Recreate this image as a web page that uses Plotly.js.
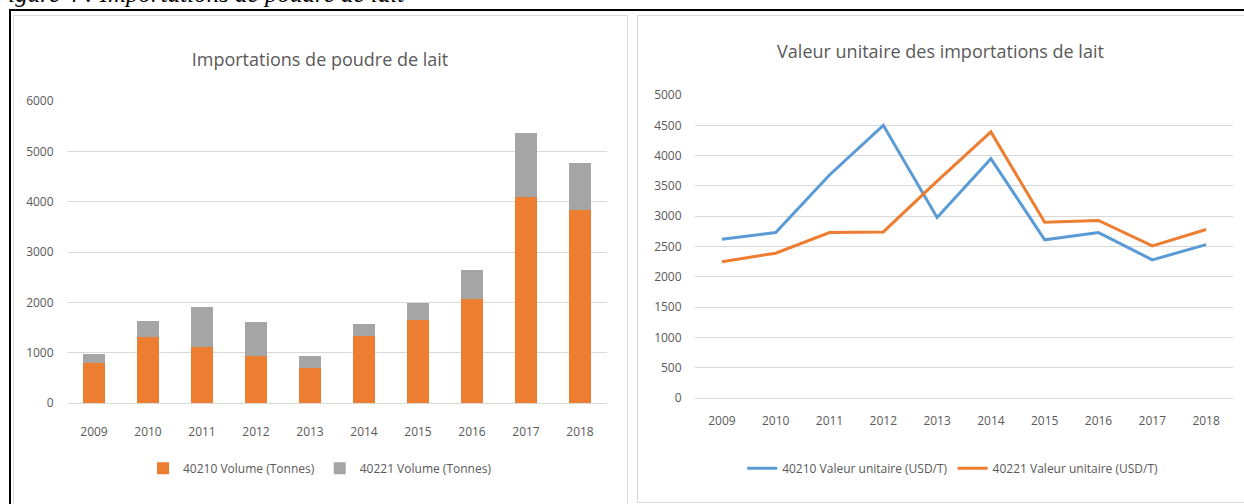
<!DOCTYPE html>
<html>
<head>
<meta charset="utf-8">
<script src="https://cdn.plot.ly/plotly-3.0.1.min.js"></script>
<style>
  body { margin: 0; background: #fff; width: 1244px; height: 504px; overflow: hidden; position: relative; }
  #caption { position: absolute; left: -7px; top: -20px; font: italic 25px "Liberation Serif", "DejaVu Serif", serif; color: #000; white-space: nowrap; }
  #frame { position: absolute; left: 9px; top: 9px; width: 1300px; height: 600px; border-left: 2px solid #000; border-top: 2px solid #000; }
  .panel { position: absolute; border: 1px solid #d9d9d9; background: #fff; }
  #volPanel { left: 13px; top: 15px; width: 613px; height: 500px; }
  #prixPanel { left: 637px; top: 15px; width: 620px; height: 486px; }
  #volChart { position: absolute; left: 13px; top: 15px; width: 614px; height: 490px; }
  #prixChart { position: absolute; left: 637px; top: 15px; width: 607px; height: 490px; }
</style>
</head>
<body>
<div id="caption">Figure 4 : Importations de poudre de lait</div>
<div id="frame"></div>
<div class="panel" id="volPanel"></div>
<div class="panel" id="prixPanel"></div>
<div id="volChart"></div>
<div id="prixChart"></div>
<script>
// années
const years = ['2009', '2010', '2011', '2012', '2013', '2014', '2015', '2016', '2017', '2018'];

// volumes importés (tonnes)
const vol40210 = [800, 1310, 1110, 930, 705, 1325, 1645, 2060, 4095, 3830];
const vol40221 = [170, 320, 795, 680, 225, 240, 345, 580, 1270, 940];

// valeur unitaire (USD/T)
const prix40210 = [2620, 2730, 3680, 4500, 2980, 3950, 2610, 2730, 2280, 2530];
const prix40221 = [2250, 2390, 2730, 2740, 3580, 4390, 2900, 2930, 2510, 2780];

const grey = '#595959';
const font = { family: 'Open Sans, sans-serif', size: 12, color: grey };
const cfg = { displayModeBar: false, responsive: false };

const volTraces = [
  { type: 'bar', name: '40210 Volume (Tonnes)', x: years, y: vol40210, marker: { color: '#ED7D31' } },
  { type: 'bar', name: '40221 Volume (Tonnes)', x: years, y: vol40221, marker: { color: '#A5A5A5' } }
];

Plotly.newPlot('volChart', volTraces, {
  width: 614, height: 490,
  paper_bgcolor: 'rgba(0,0,0,0)', plot_bgcolor: 'rgba(0,0,0,0)',
  font: font,
  margin: { l: 54, r: 20, t: 86, b: 102 },
  barmode: 'stack', bargap: 0.59,
  title: { text: 'Importations de poudre de lait', font: { family: 'Open Sans, sans-serif', size: 18, color: grey },
           x: 0.5, xanchor: 'center', y: 0.908, yanchor: 'middle', yref: 'container' },
  xaxis: { type: 'category', range: [-0.5, 9.5], showgrid: false, showline: true, linecolor: '#d9d9d9', linewidth: 1,
           ticks: 'outside', ticklen: 18, tickcolor: 'rgba(0,0,0,0)', tickfont: font, fixedrange: true },
  yaxis: { range: [0, 6000], dtick: 1000, gridcolor: '#d9d9d9', gridwidth: 1, zeroline: false,
           ticks: 'outside', ticklen: 10, tickcolor: 'rgba(0,0,0,0)', tickfont: font, fixedrange: true },
  showlegend: true,
  legend: { orientation: 'h', x: 0.5, xanchor: 'center', xref: 'container', y: 0.075, yanchor: 'middle', yref: 'container',
            font: font, itemwidth: 30, traceorder: 'normal' }
}, cfg);

const prixTraces = [
  { type: 'scatter', mode: 'lines', name: '40210 Valeur unitaire (USD/T)', x: years, y: prix40210,
    line: { color: '#5B9BD5', width: 3 } },
  { type: 'scatter', mode: 'lines', name: '40221 Valeur unitaire (USD/T)', x: years, y: prix40221,
    line: { color: '#ED7D31', width: 3 } }
];

Plotly.newPlot('prixChart', prixTraces, {
  width: 607, height: 490,
  paper_bgcolor: 'rgba(0,0,0,0)', plot_bgcolor: 'rgba(0,0,0,0)',
  font: font,
  margin: { l: 58, r: 11, t: 80, b: 107 },
  title: { text: 'Valeur unitaire des importations de lait', font: { family: 'Open Sans, sans-serif', size: 18, color: grey },
           x: 0.5, xanchor: 'center', y: 0.925, yanchor: 'middle', yref: 'container' },
  xaxis: { type: 'category', range: [-0.5, 9.5], showgrid: false, showline: true, linecolor: '#d9d9d9', linewidth: 1,
           ticks: 'outside', ticklen: 12, tickcolor: 'rgba(0,0,0,0)', tickfont: font, fixedrange: true },
  yaxis: { range: [0, 5000], dtick: 500, gridcolor: '#d9d9d9', gridwidth: 1, zeroline: false,
           ticks: 'outside', ticklen: 10, tickcolor: 'rgba(0,0,0,0)', tickfont: font, fixedrange: true },
  showlegend: true,
  legend: { orientation: 'h', x: 0.52, xanchor: 'center', xref: 'container', y: 0.075, yanchor: 'middle', yref: 'container',
            font: font, traceorder: 'normal' }
}, cfg);
</script>
</body>
</html>
